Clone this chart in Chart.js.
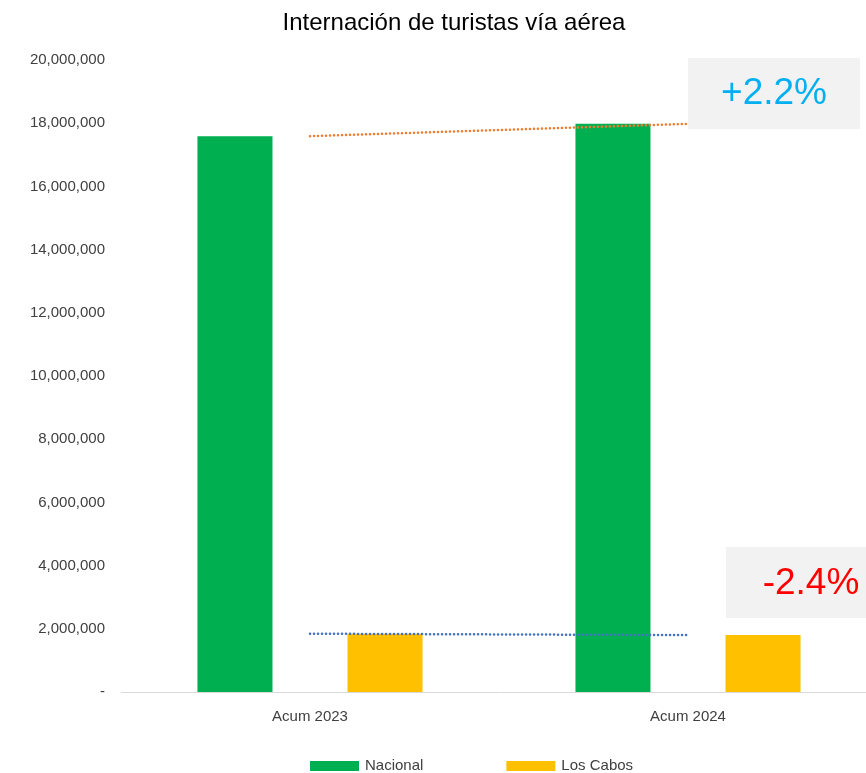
<!DOCTYPE html>
<html>
<head>
<meta charset="utf-8">
<script src="https://cdn.jsdelivr.net/npm/chart.js@4"></script>
<style>
  html, body { margin: 0; padding: 0; background: #fff; overflow: hidden; }
  #wrap { width: 880px; height: 773px; }
</style>
</head>
<body>
<div id="wrap"><canvas id="chart"></canvas></div>
<script>
// Data
const categories = ['Acum 2023', 'Acum 2024'];
const nacional = [17590000, 17980000];
const losCabos = [1845000, 1800000];
const yTicks = [0, 2000000, 4000000, 6000000, 8000000, 10000000, 12000000, 14000000, 16000000, 18000000, 20000000];
const changeNacional = '+2.2%';
const changeLosCabos = '-2.4%';
const titleText = 'Internación de turistas vía aérea';

const FONT = "'Liberation Sans', Arial, sans-serif";

// draws title, the two text boxes and the legend
const extras = {
    id: 'extras',
    afterDraw(chart) {
        const ctx = chart.ctx;
        const x = chart.scales.x, y = chart.scales.y;
        ctx.save();

        // title
        ctx.fillStyle = '#000';
        ctx.font = '24px ' + FONT;
        ctx.textAlign = 'center';
        ctx.textBaseline = 'middle';
        ctx.fillText(titleText, 454, 23);

        // +2.2% box
        let bx = x.getPixelForValue(1);
        let by = y.getPixelForValue(20060000);
        ctx.fillStyle = '#f2f2f2';
        ctx.fillRect(bx, by, 172, 71);
        ctx.fillStyle = '#00b0f0';
        ctx.font = '37px ' + FONT;
        ctx.fillText(changeNacional, bx + 86, by + 36);

        // -2.4% box
        bx = x.getPixelForValue(1) + 38;
        by = y.getPixelForValue(4590000);
        ctx.fillStyle = '#f2f2f2';
        ctx.fillRect(bx, by, 200, 71);
        ctx.fillStyle = '#ff0000';
        ctx.fillText(changeLosCabos, 811, by + 37);

        // legend
        ctx.font = '15px ' + FONT;
        ctx.textAlign = 'left';
        let lx = 310;
        [0, 1].forEach(function(i) {
            const ds = chart.data.datasets[i];
            ctx.fillStyle = ds.backgroundColor;
            ctx.fillRect(lx, 761, 49, 10);
            ctx.fillStyle = '#404040';
            ctx.fillText(ds.label, lx + 55, 766);
            lx += 55 + ctx.measureText(ds.label).width + 83;
        });
        ctx.restore();
    }
};

const data = {
    labels: categories,
    datasets: [
        { type: 'bar', label: 'Nacional', data: nacional, backgroundColor: '#00b050', order: 1,
          categoryPercentage: 0.794, barPercentage: 0.5 },
        { type: 'bar', label: 'Los Cabos', data: losCabos, backgroundColor: '#ffc000', order: 1,
          categoryPercentage: 0.794, barPercentage: 0.5 },
        { type: 'line', label: 'Tendencia Nacional', data: nacional, borderColor: '#ed7d31',
          borderWidth: 2.5, borderDash: [0.1, 3.9], borderCapStyle: 'round', pointRadius: 0, order: 0 },
        { type: 'line', label: 'Tendencia Los Cabos', data: losCabos, borderColor: '#4472c4',
          borderWidth: 2.5, borderDash: [0.1, 3.9], borderCapStyle: 'round', pointRadius: 0, order: 0 }
    ]
};

const config = {
    type: 'bar',
    data,
    options: {
        responsive: true,
        maintainAspectRatio: false,
        animation: false,
        layout: { padding: { top: 60, right: 3, bottom: 0, left: 0 } },
        plugins: {
            legend: { display: false },
            title: { display: false },
            tooltip: { enabled: false }
        },
        scales: {
            x: {
                grid: { display: false, drawTicks: false },
                border: { display: true, color: '#d9d9d9', width: 1 },
                ticks: { color: '#404040', font: { family: FONT, size: 15 }, padding: 16 },
                afterFit(scale) { scale.height = 81; }
            },
            y: {
                min: 0,
                max: 20000000,
                grid: { display: false, drawTicks: false },
                border: { display: false },
                afterBuildTicks(scale) { scale.ticks = yTicks.map(v => ({ value: v })); },
                ticks: {
                    color: '#404040',
                    font: { family: FONT, size: 15 },
                    padding: 16,
                    callback: function(v) { return v === 0 ? '-' : v.toLocaleString('en-US'); }
                },
                afterFit(scale) { scale.width = 121; }
            }
        }
    },
    plugins: [extras]
};

new Chart(document.getElementById('chart'), config);
</script>
</body>
</html>
